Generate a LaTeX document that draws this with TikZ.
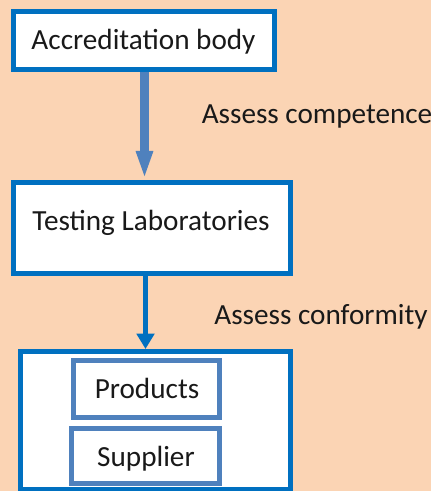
\documentclass[tikz,border=0pt]{standalone}
\usepackage{fontspec}
\setmainfont{Carlito}
\usetikzlibrary{arrows.meta}
\definecolor{bg}{HTML}{FBD4B4}
\definecolor{dblue}{HTML}{0070C0}
\definecolor{lblue}{HTML}{4F81BD}
\tikzset{
  box/.style={draw=dblue, line width=3.75pt, fill=white, rectangle, inner sep=0pt},
  ibox/.style={draw=lblue, line width=3.75pt, fill=white, rectangle, inner sep=0pt},
  txt/.style={anchor=base, font=\fontsize{21.9pt}{26pt}\selectfont, inner sep=0pt, text=black!90},
}
\begin{document}
\begin{tikzpicture}[x=0.75pt, y=-0.75pt]
\fill[bg] (0,0) rectangle (431,491);
\useasboundingbox (0,0) rectangle (431,491);
% boxes
\node[box, minimum width=261*0.75pt, minimum height=58*0.75pt] (acc) at (144,40.5) {};
\node[box, minimum width=277*0.75pt, minimum height=91*0.75pt] (lab) at (152,228) {};
\node[box, minimum width=270*0.75pt, minimum height=138*0.75pt] (out) at (155,420.5) {};
\node[ibox, minimum width=146*0.75pt, minimum height=57*0.75pt] (prod) at (146.5,389) {};
\node[ibox, minimum width=148*0.75pt, minimum height=55*0.75pt] (sup) at (145.5,456) {};
% texts
\node[txt] (acct) at (143.5,50) {Accreditation body};
\node[txt] (labt) at (151,230) {Testing Laboratories};
\node[txt] (prodt) at (147,398) {Products};
\node[txt] (supt) at (146,466) {Supplier};
\node[txt] (l1) at (317,124) {Assess competence};
\node[txt] (l2) at (321,324) {Assess conformity};
% arrows
\coordinate (a1s) at (144.5,72);
\coordinate (a1e) at (144.5,179);
\draw[lblue, line width=6.75pt, -{Triangle[length=21pt, width=11.5pt]}] (a1s) -- (a1e);
\coordinate (a2s) at (145.5,276);
\coordinate (a2e) at (145.5,349);
\draw[dblue, line width=4.2pt, -{Triangle[length=11.5pt, width=13pt]}] (a2s) -- (a2e);
\end{tikzpicture}
\end{document}
